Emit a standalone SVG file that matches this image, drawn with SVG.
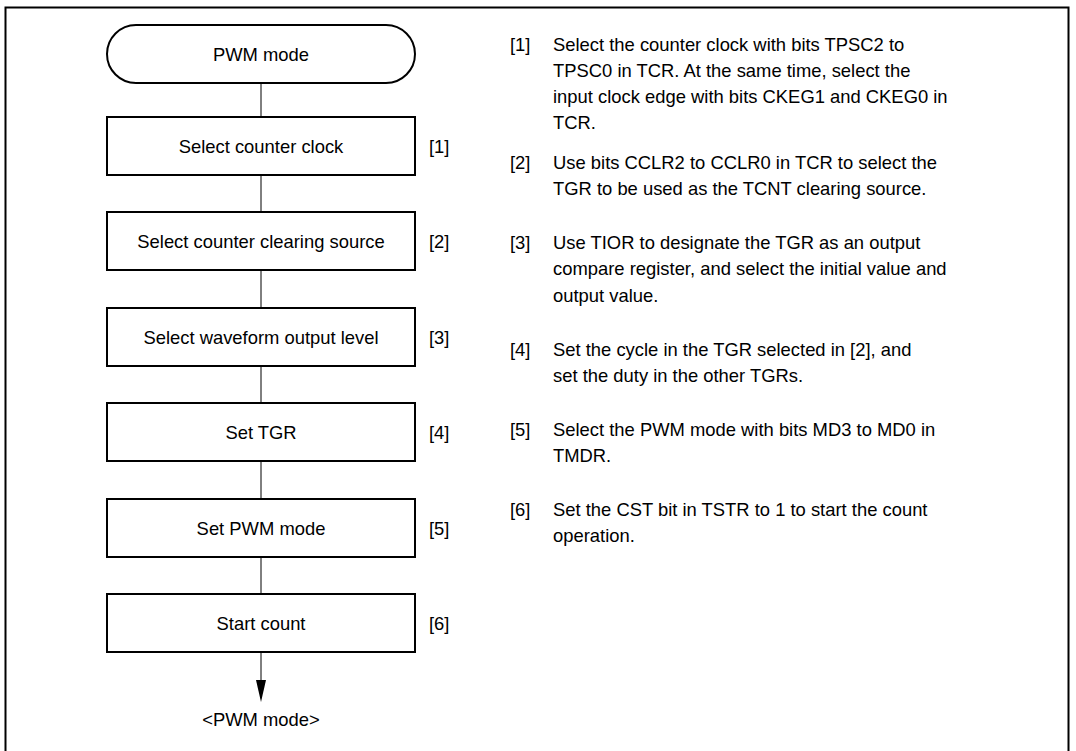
<svg xmlns="http://www.w3.org/2000/svg" width="1076" height="751" viewBox="0 0 1076 751">
<style>
  text { font-family: "Liberation Sans", Arial, sans-serif; font-size: 18.4px; fill: #000; }
  .c { text-anchor: middle; }
  .box { fill: #fff; stroke: #000; stroke-width: 2; }
  .ln { stroke: #000; stroke-width: 1; fill: none; }
</style>
<defs>
  <marker id="arr" markerWidth="10" markerHeight="22" refX="5" refY="22" orient="auto-start-reverse" markerUnits="userSpaceOnUse" viewBox="0 0 10 22">
    <path d="M0,0 L10,0 L5,22 Z" fill="#000"/>
  </marker>
</defs>
<rect x="5.5" y="7.5" width="1063" height="750" fill="none" stroke="#000" stroke-width="2"/>
<g id="connectors">
  <line class="ln" x1="261" y1="83" x2="261" y2="117"/>
  <line class="ln" x1="261" y1="175" x2="261" y2="212"/>
  <line class="ln" x1="261" y1="270" x2="261" y2="308"/>
  <line class="ln" x1="261" y1="366" x2="261" y2="403"/>
  <line class="ln" x1="261" y1="461" x2="261" y2="499"/>
  <line class="ln" x1="261" y1="557" x2="261" y2="594"/>
  <line class="ln" x1="261" y1="652" x2="261" y2="680"/>
  <path d="M256,680 L266,680 L261,702 Z" fill="#000"/>
</g>
<g id="start">
  <rect class="box" x="107" y="25" width="308" height="58" rx="29" ry="29"/>
  <text class="c" x="261" y="60.5">PWM mode</text>
</g>
<g id="step1">
  <rect class="box" x="107" y="117" width="308" height="58"/>
  <text class="c" x="261" y="152.5">Select counter clock</text>
  <text x="429" y="152.5">[1]</text>
</g>
<g id="step2">
  <rect class="box" x="107" y="212" width="308" height="58"/>
  <text class="c" x="261" y="247.5">Select counter clearing source</text>
  <text x="429" y="247.5">[2]</text>
</g>
<g id="step3">
  <rect class="box" x="107" y="308" width="308" height="58"/>
  <text class="c" x="261" y="343.5">Select waveform output level</text>
  <text x="429" y="343.5">[3]</text>
</g>
<g id="step4">
  <rect class="box" x="107" y="403" width="308" height="58"/>
  <text class="c" x="261" y="438.5">Set TGR</text>
  <text x="429" y="438.5">[4]</text>
</g>
<g id="step5">
  <rect class="box" x="107" y="499" width="308" height="58"/>
  <text class="c" x="261" y="534.5">Set PWM mode</text>
  <text x="429" y="534.5">[5]</text>
</g>
<g id="step6">
  <rect class="box" x="107" y="594" width="308" height="58"/>
  <text class="c" x="261" y="629.5">Start count</text>
  <text x="429" y="629.5">[6]</text>
</g>
<g id="end">
  <text class="c" x="261" y="726">&lt;PWM mode&gt;</text>
</g>
<g id="notes">
  <text x="510" y="51">[1]</text>
  <text x="553" y="51">Select the counter clock with bits TPSC2 to</text>
  <text x="553" y="77">TPSC0 in TCR. At the same time, select the</text>
  <text x="553" y="103">input clock edge with bits CKEG1 and CKEG0 in</text>
  <text x="553" y="129">TCR.</text>
  <text x="510" y="169">[2]</text>
  <text x="553" y="169">Use bits CCLR2 to CCLR0 in TCR to select the</text>
  <text x="553" y="195">TGR to be used as the TCNT clearing source.</text>
  <text x="510" y="249">[3]</text>
  <text x="553" y="249">Use TIOR to designate the TGR as an output</text>
  <text x="553" y="275">compare register, and select the initial value and</text>
  <text x="553" y="302">output value.</text>
  <text x="510" y="356">[4]</text>
  <text x="553" y="356">Set the cycle in the TGR selected in [2], and</text>
  <text x="553" y="382">set the duty in the other TGRs.</text>
  <text x="510" y="436">[5]</text>
  <text x="553" y="436">Select the PWM mode with bits MD3 to MD0 in</text>
  <text x="553" y="462">TMDR.</text>
  <text x="510" y="516">[6]</text>
  <text x="553" y="516">Set the CST bit in TSTR to 1 to start the count</text>
  <text x="553" y="542">operation.</text>
</g>
</svg>
